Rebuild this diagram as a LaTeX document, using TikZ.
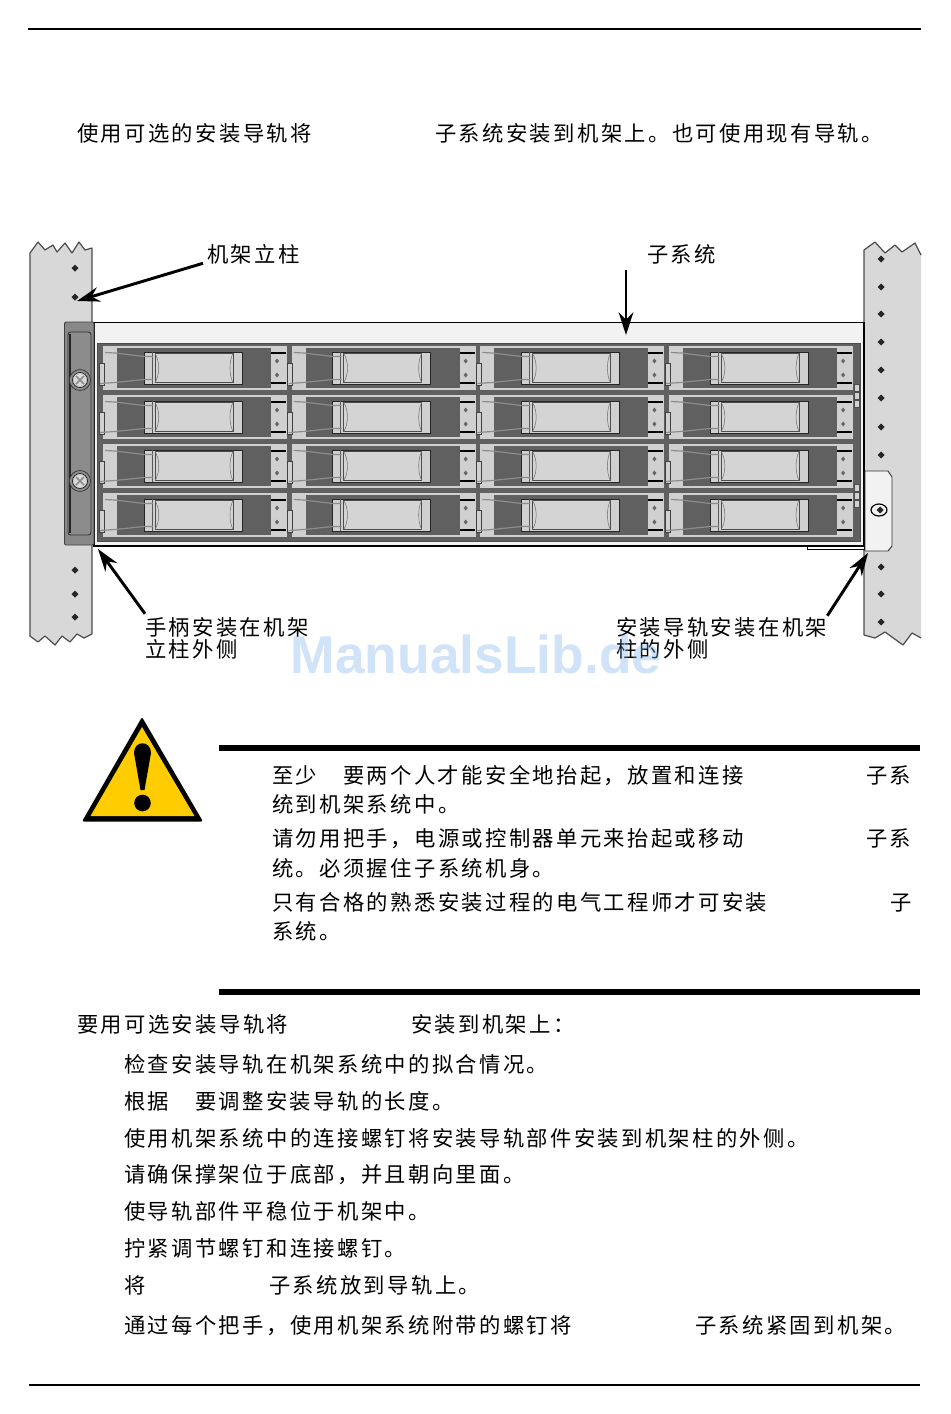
\documentclass[tikz,border=0pt]{standalone}
\usepackage{fontspec}
\usepackage{xcolor}
\usetikzlibrary{arrows,arrows.meta}
\newfontfamily\cjk[LetterSpace=11]{Noto Sans CJK SC}
\newfontfamily\wmark{Liberation Sans Bold}
\newcommand\zhcomma{\char"FF0C\relax}
\newcommand\zhcolon{\char"FF1A\relax}
\definecolor{postgray}{RGB}{216,216,216}
\definecolor{baygray}{RGB}{208,208,208}
\definecolor{darkgray}{RGB}{96,96,96}
\definecolor{handlegray}{RGB}{136,136,136}
\definecolor{warnyellow}{RGB}{255,204,0}
\definecolor{wmblue}{RGB}{120,175,235}
\tikzstyle{arrow} = [line width=2.2pt,-{Stealth[length=17pt,width=11pt]},color=black]
\tikzstyle{txt} = [font=\cjk\fontsize{16pt}{18pt}\selectfont, inner sep=0pt, anchor=base west, text height=12pt, text depth=3pt]
\tikzstyle{rule} = [line width=0.9pt,black]
\tikzstyle{bar} = [line width=4pt,black]
\tikzstyle{postedge} = [draw=black!70,line width=0.9pt,line join=round]
\tikzstyle{hole} = [fill=black!85,draw=none]
\begin{document}
\begin{tikzpicture}[x=0.75pt,y=-0.75pt]
\useasboundingbox (0,0) rectangle (950,1414);

% Page rules
\draw[rule] (28,29) -- (921,29);
\draw[rule] (29,1385) -- (920,1385);

% Intro line
\node[txt] (intro1) at (77,141) {使用可选的安装导轨将};
\node[txt] (intro2) at (435,141) {子系统安装到机架上。也可使用现有导轨。};

% Rack posts
\fill[postgray] (30,253) -- (38,242) -- (45,250) -- (53,245) -- (57,252) -- (65,243) -- (72,253) -- (79,242) -- (85,250) -- (92,248) -- (92,634) -- (84,638) -- (77,634) -- (70,642) -- (62,636) -- (55,645) -- (45,636) -- (38,642) -- (30,636) -- cycle;
\draw[postedge] (92,634) -- (84,638) -- (77,634) -- (70,642) -- (62,636) -- (55,645) -- (45,636) -- (38,642) -- (30,636) -- (30,253) -- (38,242) -- (45,250) -- (53,245) -- (57,252) -- (65,243) -- (72,253) -- (79,242) -- (85,250) -- (92,248) -- (92,634);
\fill[postgray] (864,250) -- (875,242) -- (885,253) -- (895,245) -- (902,252) -- (915,243) -- (921,255) -- (921,638) -- (912,633) -- (903,645) -- (885,632) -- (875,638) -- (864,635) -- cycle;
\draw[postedge] (921,255) -- (915,243) -- (902,252) -- (895,245) -- (885,253) -- (875,242) -- (864,250) -- (864,635) -- (875,638) -- (885,632) -- (903,645) -- (912,633) -- (921,638);
\foreach \y in {268,297,570,594,617}
  \fill[hole] (75,\y-3.5) -- (78.5,\y) -- (75,\y+3.5) -- (71.5,\y) -- cycle;
\foreach \y in {259,287,314,342,370,398,427,455,567,594,622}
  \fill[hole] (881,\y-3.5) -- (884.5,\y) -- (881,\y+3.5) -- (877.5,\y) -- cycle;

% Subsystem chassis
\draw[fill=black!5,line width=0.9pt] (94,322.5) rectangle (864,546);
\draw[fill=darkgray,draw=black!70,line width=0.6pt] (97,343) rectangle (860,541);
\draw[fill=white,line width=0.6pt] (807,546) rectangle (864,549.5);

% Drive bays
\foreach \c in {0,1,2,3} {
\foreach \r in {0,1,2,3} {
\begin{scope}[shift={(103+188.7*\c,346+49*\r)}]
  \fill[baygray] (0,0) rectangle (184,44);
  \fill[darkgray] (14,2) rectangle (168,42);
  \draw[fill=baygray,draw=black!75,line width=0.5pt] (-4,17) rectangle (1,39);
  \draw[fill=baygray,draw=black!85,line width=0.7pt] (41,6) rectangle (139,38);
  \draw[fill=black!17,draw=black!70,line width=0.5pt] (52,7.5) rectangle (130,36.5);
  \draw[black!65,line width=0.5pt] (49,6) -- (49,38);
  \draw[black!55,line width=0.4pt] (52,7.5) .. controls (57,15) and (57,29) .. (52,36.5);
  \draw[black!55,line width=0.4pt] (130,7.5) .. controls (126,15) and (126,29) .. (130,36.5);
  \draw[black!45,line width=0.9pt] (2,6.5) -- (12,7) -- (41,10.5) -- (50,10.5);
  \draw[black!45,line width=0.9pt] (-3,37.5) -- (12,36.5) -- (41,33.5) -- (50,33.5);
  \draw[black,line width=0.9pt] (168,7) -- (183,7);
  \draw[black,line width=0.9pt] (168,37) -- (183,37);
  \fill[black!60] (174,12.5) -- (176,15) -- (174,17.5) -- (172,15) -- cycle;
  \fill[black!60] (174,26.5) -- (176,29) -- (174,31.5) -- (172,29) -- cycle;
\end{scope}
}}

% Small latches at right
\foreach \y in {388,396,404,488,496,504}
  \draw[fill=baygray,draw=black!70,line width=0.4pt] (854.5,\y-3.5) rectangle (859,\y+3.5);

% Left handle
\draw[fill=handlegray,draw=black!75,line width=0.7pt,rounded corners=1pt] (64.5,322) rectangle (94,545);
\draw[fill=black!45,draw=black!80,line width=0.7pt,rounded corners=2pt] (68,332) rectangle (91,535);
\draw[black!85,line width=1.2pt] (70,334) -- (70,533);
\foreach \y in {380,481} {
  \draw[fill=black!45,draw=black!80,line width=0.5pt] (80,\y) circle (10.5);
  \draw[fill=black!15,draw=black!85,line width=0.6pt] (80,\y) circle (7.5);
  \draw[black!45,line width=1.2pt] (76,\y-4) -- (84,\y+4);
  \draw[black!45,line width=1.2pt] (84,\y-4) -- (76,\y+4);
}

% Right bracket
\draw[fill=black!5,draw=black!80,line width=0.7pt] (865,471) -- (888,471) -- (892,477) -- (892,546) -- (888,551) -- (865,551) -- cycle;
\draw[fill=black!5,line width=0.9pt] (879,510) ellipse (8 and 6);
\fill[hole] (880,506.5) -- (883.5,510) -- (880,513.5) -- (876.5,510) -- cycle;

% Labels and arrows
\node[txt] (postlabel) at (207,262) {机架立柱};
\node[txt] (subsyslabel) at (647,262) {子系统};
\node[txt] (handlelabel) at (145,635) {手柄安装在机架};
\node[txt] (handlelabelb) at (145,657) {立柱外侧};
\node[txt] (raillabel) at (616,635) {安装导轨安装在机架};
\node[txt] (raillabelb) at (616,657) {柱的外侧};
\coordinate (posttip) at (77,301);
\coordinate (subsystail) at (626,270);
\coordinate (subsystip) at (626,335);
\coordinate (handletip) at (98,549);
\coordinate (railtip) at (868,553);
\draw[arrow] (postlabel.south west) ++(-4,-3) -- (posttip);
\draw[arrow] (subsystail) -- (subsystip);
\draw[arrow] (handlelabel.north west) ++(0,-5) -- (handletip);
\draw[arrow] (raillabel.north east) ++(0,-3) -- (railtip);

% Warning sign
\fill[black,rounded corners=1.5pt] (142,717) -- (203,821.5) -- (82,821.5) -- cycle;
\fill[warnyellow] (142,727) -- (194.5,816) -- (90.5,816) -- cycle;
\fill[black] (134,753) .. controls (134,740) and (151,740) .. (151,753) -- (144.5,790) -- (140.5,790) -- cycle;
\fill[black] (142.5,803) circle (8.3);

% Warning bars
\draw[bar] (219,748) -- (920,748);
\draw[bar] (219,992) -- (920,992);

% Warning text
\node[txt] (warna) at (272,783) {至少};
\node[txt] (warnb) at (343,783) {要两个人才能安全地抬起\zhcomma 放置和连接};
\node[txt] (warnc) at (866,783) {子系};
\node[txt] (warnd) at (272,812) {统到机架系统中。};
\node[txt] (warne) at (272,846) {请勿用把手\zhcomma 电源或控制器单元来抬起或移动};
\node[txt] (warnf) at (866,846) {子系};
\node[txt] (warng) at (272,876) {统。必须握住子系统机身。};
\node[txt] (warnh) at (272,910) {只有合格的熟悉安装过程的电气工程师才可安装};
\node[txt] (warni) at (890,910) {子};
\node[txt] (warnj) at (272,939) {系统。};

% Steps
\node[txt] (stepa) at (77,1032) {要用可选安装导轨将};
\node[txt] (stepb) at (411,1032) {安装到机架上\zhcolon};
\node[txt] (stepc) at (124,1072) {检查安装导轨在机架系统中的拟合情况。};
\node[txt] (stepd) at (124,1109) {根据};
\node[txt] (stepe) at (195,1109) {要调整安装导轨的长度。};
\node[txt] (stepf) at (124,1146) {使用机架系统中的连接螺钉将安装导轨部件安装到机架柱的外侧。};
\node[txt] (stepg) at (124,1182) {请确保撑架位于底部\zhcomma 并且朝向里面。};
\node[txt] (steph) at (124,1219) {使导轨部件平稳位于机架中。};
\node[txt] (stepi) at (124,1256) {拧紧调节螺钉和连接螺钉。};
\node[txt] (stepj) at (124,1293) {将};
\node[txt] (stepk) at (269,1293) {子系统放到导轨上。};
\node[txt] (stepl) at (124,1333) {通过每个把手\zhcomma 使用机架系统附带的螺钉将};
\node[txt] (stepm) at (695,1333) {子系统紧固到机架。};

% Watermark
\node[font=\wmark\fontsize{40pt}{44pt}\selectfont,text=wmblue,text opacity=0.35,inner sep=0pt] (watermark) at (476,654) {ManualsLib.de};
\end{tikzpicture}
\end{document}
